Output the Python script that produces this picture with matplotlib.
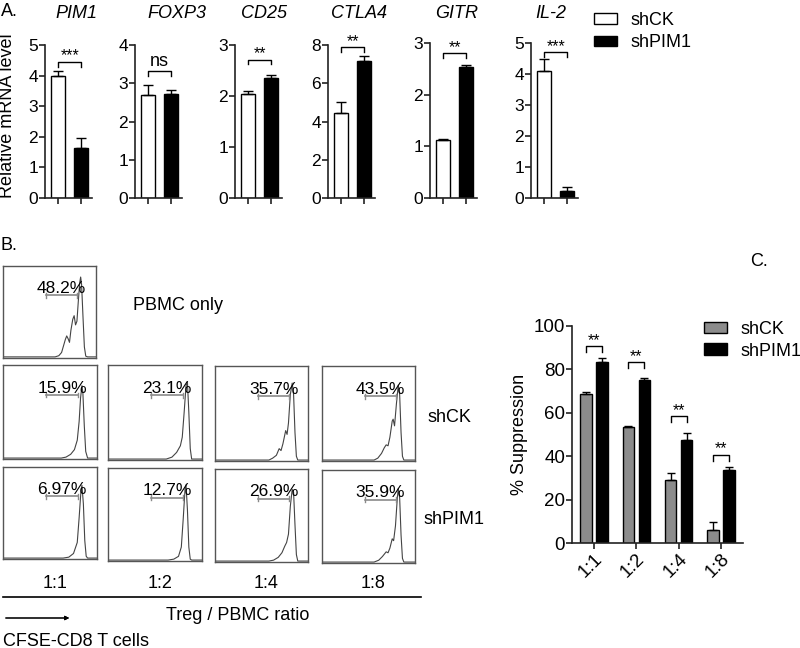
import numpy as np
import matplotlib.pyplot as plt
from matplotlib.patches import Patch
from matplotlib.lines import Line2D

plt.rcParams['font.family'] = ['Liberation Sans', 'DejaVu Sans']

W, H = 800, 648

# ---------------- Panel A : relative mRNA level
genes = ['PIM1', 'FOXP3', 'CD25', 'CTLA4', 'GITR', 'IL-2']
ck_mrna = [3.98, 2.68, 2.03, 4.47, 1.13, 4.10]
ck_mrna_err = [0.18, 0.28, 0.07, 0.55, 0.02, 0.38]
pim_mrna = [1.65, 2.72, 2.35, 7.18, 2.53, 0.22]
pim_mrna_err = [0.30, 0.11, 0.07, 0.24, 0.04, 0.12]
a_ymax = [5, 4, 3, 8, 3, 5]
a_ystep = [1, 1, 1, 2, 1, 1]
a_sig = ['***', 'ns', '**', '**', '**', '***']
a_bracket = [4.44, 3.32, 2.71, 7.88, 2.80, 4.70]

# ---------------- Panel B : CFSE histograms (x, y as fraction of box)
pbmc_pct = '48.2%'
ck_pct = ['15.9%', '23.1%', '35.7%', '43.5%']
pim_pct = ['6.97%', '12.7%', '26.9%', '35.9%']
ratios = ['1:1', '1:2', '1:4', '1:8']

trace_pbmc = [(0, .012), (.56, .012), (.60, .025), (.63, .06), (.65, .13), (.67, .20),
              (.685, .24), (.70, .21), (.715, .17), (.73, .30), (.75, .42), (.765, .46),
              (.78, .36), (.795, .40), (.81, .62), (.825, .82), (.835, .88), (.845, .80),
              (.86, .45), (.875, .12), (.89, .02), (.91, .012), (1, .012)]
trace_ck_11 = [(0, .01), (.62, .01), (.67, .02), (.72, .05), (.76, .10), (.79, .20), (.81, .40),
               (.825, .65), (.84, .78), (.85, .70), (.865, .35), (.88, .08), (.90, .01), (1, .01)]
trace_ck_12 = [(0, .01), (.62, .01), (.68, .03), (.73, .08), (.77, .15), (.79, .24), (.81, .50),
               (.83, .78), (.845, .82), (.86, .50), (.875, .12), (.89, .01), (1, .01)]
trace_ck_14 = [(0, .01), (.58, .01), (.62, .03), (.66, .06), (.69, .13), (.71, .11), (.73, .18),
               (.76, .32), (.775, .28), (.79, .40), (.81, .70), (.83, .82), (.845, .70),
               (.86, .30), (.875, .05), (.89, .01), (1, .01)]
trace_ck_18 = [(0, .01), (.56, .01), (.60, .03), (.64, .08), (.67, .14), (.69, .17), (.71, .16),
               (.73, .25), (.755, .42), (.765, .44), (.78, .37), (.80, .60), (.82, .80),
               (.835, .70), (.85, .30), (.865, .05), (.88, .01), (1, .01)]
trace_pim_11 = [(0, .01), (.64, .01), (.70, .02), (.75, .06), (.79, .18), (.81, .45), (.83, .75),
                (.84, .80), (.855, .60), (.87, .20), (.885, .03), (.90, .01), (1, .01)]
trace_pim_12 = [(0, .01), (.64, .01), (.70, .02), (.75, .05), (.78, .15), (.80, .45), (.82, .78),
                (.83, .82), (.845, .55), (.86, .15), (.875, .02), (.89, .01), (1, .01)]
trace_pim_14 = [(0, .01), (.58, .01), (.63, .02), (.68, .05), (.72, .10), (.75, .17), (.77, .21),
                (.79, .30), (.81, .60), (.83, .78), (.845, .75), (.86, .40), (.875, .08),
                (.89, .01), (1, .01)]
trace_pim_18 = [(0, .01), (.56, .01), (.61, .03), (.65, .07), (.69, .12), (.71, .11), (.73, .16),
                (.755, .26), (.77, .24), (.79, .40), (.81, .70), (.82, .80), (.835, .70),
                (.85, .30), (.865, .05), (.88, .01), (1, .01)]

# ---------------- Panel C : % suppression
supp_ck = [68.6, 53.3, 29.2, 5.8]
supp_ck_err = [1.0, 0.7, 2.9, 4.0]
supp_pim = [83.6, 75.0, 47.5, 33.6]
supp_pim_err = [1.8, 0.9, 3.0, 1.3]
c_bracket = [90.7, 83.2, 58.3, 40.6]
c_sig = ['**', '**', '**', '**']

fig = plt.figure(figsize=(W / 100, H / 100), dpi=100)


def add_ax(x0, y0, x1, y1):
    return fig.add_axes([x0 / W, 1 - y1 / H, (x1 - x0) / W, (y1 - y0) / H])


def ftext(x, y, s, **kw):
    fig.text(x / W, 1 - y / H, s, **kw)


def style_axis(ax):
    for s in ['top', 'right']:
        ax.spines[s].set_visible(False)
    for s in ['left', 'bottom']:
        ax.spines[s].set_linewidth(1.2)
        ax.spines[s].set_color('#222222')
    ax.tick_params(width=1.2, length=4, color='#222222', pad=1)


def bracket(ax, x0, x1, y, drop, label, fs, gap):
    ax.plot([x0, x0, x1, x1], [y - drop, y, y, y - drop], color='black', lw=1.0, clip_on=False)
    ax.text((x0 + x1) / 2, y + gap, label, ha='center', va='bottom', fontsize=fs)


# ---- Panel A
a_spine_x = [45, 135, 235, 328, 430, 531]
a_top = [45, 45, 45, 45, 43, 43]
a_title_x = [76, 177, 264, 359, 457, 551]
for i, g in enumerate(genes):
    ax = add_ax(a_spine_x[i], a_top[i], a_spine_x[i] + 47, 198)
    style_axis(ax)
    ax.bar([0], [ck_mrna[i]], width=0.6, color='white', edgecolor='black', lw=1.0,
           label='shCK' if i == 0 else None)
    ax.bar([1], [pim_mrna[i]], width=0.6, color='black', edgecolor='black', lw=1.0,
           label='shPIM1' if i == 0 else None)
    ax.errorbar([0, 1], [ck_mrna[i], pim_mrna[i]],
                yerr=[[0, 0], [ck_mrna_err[i], pim_mrna_err[i]]],
                fmt='none', ecolor='black', elinewidth=1.0, capsize=3.5, capthick=1.0)
    ax.set_xlim(-0.55, 1.45)
    ax.set_ylim(0, a_ymax[i])
    ax.set_yticks(np.arange(0, a_ymax[i] + 0.01, a_ystep[i]))
    ax.set_xticks([0, 1])
    ax.set_xticklabels([])
    ax.tick_params(axis='y', labelsize=12.5)
    d = a_ymax[i] * 4.5 / 153
    is_ns = a_sig[i] == 'ns'
    bracket(ax, 0, 1, a_bracket[i], d, a_sig[i], 13 if is_ns else 11.5,
            a_ymax[i] * (1.5 if is_ns else -1.5) / 153)
    ftext(a_title_x[i], 13, g, ha='center', va='center', fontsize=13, style='italic')

ftext(8, 116, 'Relative mRNA level', rotation=90, ha='center', va='center', fontsize=13)
ftext(1, 12, 'A.', ha='left', va='center', fontsize=13)

fig.legend(handles=[Patch(facecolor='white', edgecolor='black', lw=1.0),
                    Patch(facecolor='black', edgecolor='black', lw=1.0)],
           labels=['shCK', 'shPIM1'], loc='upper left',
           bbox_to_anchor=(594 / W, 1 - 12 / H), frameon=False, fontsize=13,
           handlelength=1.3, handleheight=0.5, handletextpad=0.7, labelspacing=0.3,
           borderpad=0, borderaxespad=0)

# ---- Panel B


def hist_box(box, trace, pct):
    ax = add_ax(*box)
    xs = [p[0] for p in trace]
    ys = [p[1] for p in trace]
    ax.plot(xs, ys, color='#444444', lw=0.8)
    ax.plot([0.46, 0.80], [0.68, 0.68], color='#8a8a8a', lw=1.2)
    for xe in (0.46, 0.80):
        ax.plot([xe, xe], [0.655, 0.705], color='#8a8a8a', lw=1.0)
    ax.text(0.63, 0.705, pct, ha='center', va='baseline', fontsize=12.5)
    ax.set_xlim(0, 1)
    ax.set_ylim(0, 1)
    ax.set_xticks([])
    ax.set_yticks([])
    for s in ax.spines.values():
        s.set_color('#555555')
        s.set_linewidth(1.0)
    return ax


hist_box((3, 266, 96, 358), trace_pbmc, pbmc_pct)
row_left = [3, 108, 215, 322]
row_right = [97, 202, 308, 415]
ck_top = [365, 365, 366, 366]
ck_bot = [459, 460, 461, 461]
pim_top = [467, 468, 469, 470]
pim_bot = [559, 561, 562, 563]
ck_traces = [trace_ck_11, trace_ck_12, trace_ck_14, trace_ck_18]
pim_traces = [trace_pim_11, trace_pim_12, trace_pim_14, trace_pim_18]
for j in range(4):
    hist_box((row_left[j], ck_top[j], row_right[j], ck_bot[j]), ck_traces[j], ck_pct[j])
    hist_box((row_left[j], pim_top[j], row_right[j], pim_bot[j]), pim_traces[j], pim_pct[j])
    ftext((row_left[j] + row_right[j]) / 2 + 5, 583, ratios[j], ha='center', va='center',
          fontsize=13)

ftext(1, 245, 'B.', ha='left', va='center', fontsize=13)
ftext(133, 305, 'PBMC only', ha='left', va='center', fontsize=13)
ftext(428, 417, 'shCK', ha='left', va='center', fontsize=13)
ftext(424, 519, 'shPIM1', ha='left', va='center', fontsize=13)
fig.add_artist(Line2D([3 / W, 421 / W], [1 - 597 / H, 1 - 597 / H], color='black', lw=1.2))
ftext(238, 615, 'Treg / PBMC ratio', ha='center', va='center', fontsize=13)
fig.add_artist(plt.annotate('', xy=(72 / W, 1 - 618 / H), xytext=(3 / W, 1 - 618 / H),
                            xycoords='figure fraction', textcoords='figure fraction',
                            arrowprops=dict(arrowstyle='-|>', lw=0.8, color='black',
                                            mutation_scale=6)))
ftext(3, 641, 'CFSE-CD8 T cells', ha='left', va='center', fontsize=13)

# ---- Panel C
axc = add_ax(572, 326, 743, 543)
style_axis(axc)
xc = np.arange(len(ratios))
off, bw = 0.19, 0.27
axc.bar(xc - off, supp_ck, width=bw, color='#8c8c8c', edgecolor='black', lw=1.0, label='shCK')
axc.bar(xc + off, supp_pim, width=bw, color='black', edgecolor='black', lw=1.0, label='shPIM1')
axc.errorbar(xc - off, supp_ck, yerr=[np.zeros(4), supp_ck_err], fmt='none', ecolor='black',
             elinewidth=1.0, capsize=3, capthick=1.0)
axc.errorbar(xc + off, supp_pim, yerr=[np.zeros(4), supp_pim_err], fmt='none', ecolor='black',
             elinewidth=1.0, capsize=3, capthick=1.0)
for k in range(4):
    bracket(axc, xc[k] - off, xc[k] + off, c_bracket[k], 2.6, c_sig[k], 11.5, -0.8)
axc.set_xlim(-0.52, 3.52)
axc.set_ylim(0, 100)
axc.set_yticks(range(0, 101, 20))
axc.set_xticks(xc)
axc.set_xticklabels(ratios, rotation=45, ha='right', va='top', rotation_mode='anchor')
axc.tick_params(labelsize=13.5)
axc.set_ylabel('% Suppression', fontsize=13, labelpad=4)
axc.legend(loc='upper left', bbox_to_anchor=(704 / W, 1 - 321 / H),
           bbox_transform=fig.transFigure, frameon=False, fontsize=13,
           handlelength=1.3, handleheight=0.6, handletextpad=0.7, labelspacing=0.25,
           borderpad=0, borderaxespad=0)
ftext(750, 262, 'C.', ha='left', va='center', fontsize=13)

fig.savefig('out.png', dpi=100)
